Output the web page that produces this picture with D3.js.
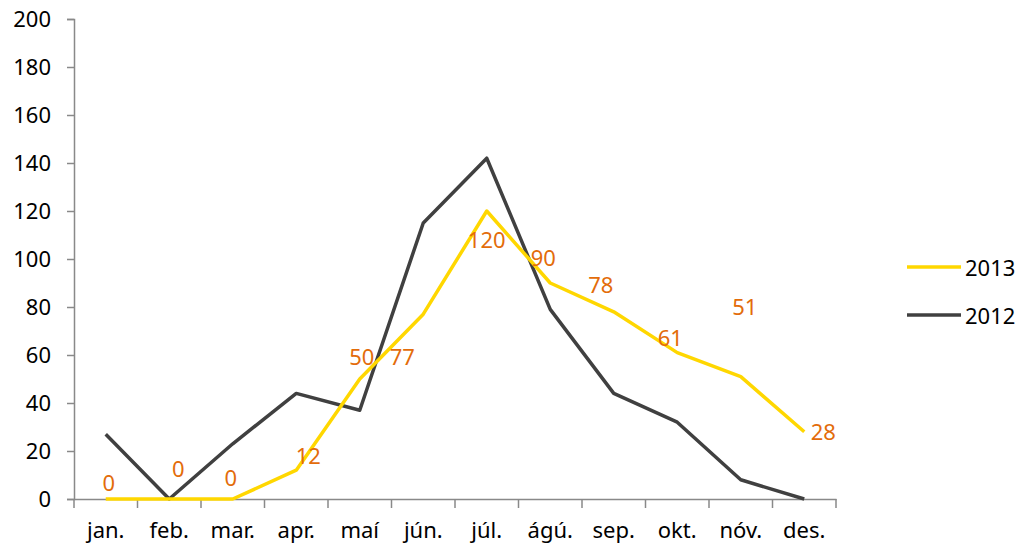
<!DOCTYPE html>
<html>
<head>
<meta charset="utf-8">
<script src="https://cdn.jsdelivr.net/npm/d3@7"></script>
<style>
  body { margin: 0; background: #fff; }
  text { font-family: "Noto Sans", sans-serif; }
</style>
</head>
<body>
<div id="chart"></div>
<script>
const months = ["jan.", "feb.", "mar.", "apr.", "maí", "jún.", "júl.", "ágú.", "sep.", "okt.", "nóv.", "des."];
const values2013 = [0, 0, 0, 12, 50, 77, 120, 90, 78, 61, 51, 28];
const values2012 = [27, 0, 23, 44, 37, 115, 142, 79, 44, 32, 8, 0];
const yTicks = [0, 20, 40, 60, 80, 100, 120, 140, 160, 180, 200];
const seriesNames = ["2013", "2012"];

// where Excel dropped each data label, relative to its point (px)
const labelOffsets = [[3, -17], [9, -31], [-2, -22], [12, -15], [2, -23], [-21, 42],
  [0, 28], [-7, -26], [-13, -28], [-7, -16], [4, -71], [19, -1]];

const width = 1021, height = 547;
const margin = { top: 19, right: 185, bottom: 48, left: 74 };

const svg = d3.select("#chart").append("svg")
  .attr("width", width)
  .attr("height", height);

const x = d3.scaleBand()
  .domain(months)
  .range([margin.left, width - margin.right]);

const y = d3.scaleLinear()
  .domain([0, 200])
  .range([height - margin.bottom, margin.top]);

const axisColor = "#898989";

// y axis
const yAxis = svg.append("g")
  .attr("transform", `translate(${margin.left},0)`)
  .call(d3.axisLeft(y).tickValues(yTicks).tickSize(7).tickPadding(16));
yAxis.select(".domain").attr("stroke", axisColor).attr("stroke-width", 1.5);
yAxis.selectAll(".tick line").attr("stroke", axisColor).attr("stroke-width", 1.5);
yAxis.selectAll(".tick text").attr("fill", "#000").style("font-size", "22px");

// x axis, ticks on band boundaries
const xAxis = svg.append("g")
  .attr("transform", `translate(0,${y(0)})`)
  .call(d3.axisBottom(x).tickSize(0).tickPadding(23));
xAxis.select(".domain").attr("stroke", axisColor).attr("stroke-width", 1.5);
xAxis.selectAll(".tick text").attr("fill", "#000").style("font-size", "22px");
xAxis.selectAll(".bound")
  .data(d3.range(months.length + 1))
  .join("line")
  .attr("x1", i => margin.left + i * x.step())
  .attr("x2", i => margin.left + i * x.step())
  .attr("y1", 0)
  .attr("y2", 9)
  .attr("stroke", axisColor)
  .attr("stroke-width", 1.5);

const cx = m => x(m) + x.bandwidth() / 2;

const line = d3.line()
  .x((d, i) => cx(months[i]))
  .y(d => y(d));

const colors = { "2013": "#FFD700", "2012": "#404040" };

svg.append("path")
  .datum(values2012)
  .attr("d", line)
  .attr("fill", "none")
  .attr("stroke", colors["2012"])
  .attr("stroke-width", 3.5)
  .attr("stroke-linejoin", "round");

svg.append("path")
  .datum(values2013)
  .attr("d", line)
  .attr("fill", "none")
  .attr("stroke", colors["2013"])
  .attr("stroke-width", 3.5)
  .attr("stroke-linejoin", "round");

// data labels for 2013
svg.selectAll(".lbl")
  .data(values2013)
  .join("text")
  .attr("class", "lbl")
  .attr("x", (d, i) => cx(months[i]) + labelOffsets[i][0])
  .attr("y", (d, i) => y(d) + labelOffsets[i][1])
  .attr("text-anchor", "middle")
  .attr("dominant-baseline", "central")
  .attr("fill", "#E36C0A")
  .style("font-size", "22px")
  .text(d => d);

// legend
const legend = svg.append("g").attr("transform", "translate(907,267)");
seriesNames.forEach((name, i) => {
  const g = legend.append("g").attr("transform", `translate(0,${i * 48})`);
  g.append("line")
    .attr("x1", 0).attr("x2", 54)
    .attr("stroke", colors[name])
    .attr("stroke-width", 3.5);
  g.append("text")
    .attr("x", 58)
    .attr("dominant-baseline", "central")
    .attr("fill", "#000")
    .style("font-size", "22px")
    .text(name);
});
</script>
</body>
</html>
